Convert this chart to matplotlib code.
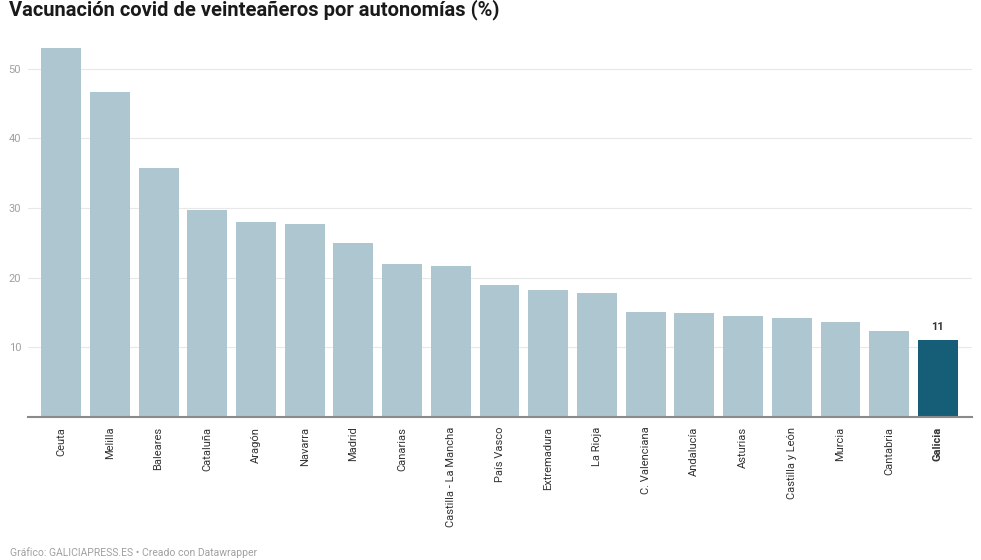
import matplotlib.pyplot as plt

regions = ["Ceuta", "Melilla", "Baleares", "Cataluña", "Aragón", "Navarra", "Madrid",
           "Canarias", "Castilla - La Mancha", "País Vasco", "Extremadura", "La Rioja",
           "C. Valenciana", "Andalucía", "Asturias", "Castilla y León", "Murcia",
           "Cantabria", "Galicia"]
values = [53.0, 46.6, 35.8, 29.7, 28.0, 27.7, 25.0, 22.0, 21.7, 19.0, 18.2, 17.8,
          15.1, 14.9, 14.5, 14.2, 13.6, 12.3, 11.0]
highlight = "Galicia"
yticks = [10, 20, 30, 40, 50]

plt.rcParams['font.family'] = ['Roboto', 'DejaVu Sans']

fig = plt.figure(figsize=(9.81, 5.6), dpi=100)
ax = fig.add_axes([28 / 981, 1 - 417 / 560, 944 / 981, (417 - 34) / 560])

colors = ["#165d78" if r == highlight else "#aec6cf" for r in regions]
x = range(len(regions))
ax.bar(x, values, width=0.82, color=colors, zorder=2)

ax.set_xlim(-0.68, len(regions) - 0.3)
ax.set_ylim(0, 55)
ax.set_yticks(yticks)
ax.set_yticklabels([str(t) for t in yticks], color="#a0a0a0", fontsize=8)
ax.tick_params(axis="y", length=0, pad=5)
ax.grid(axis="y", color="#e8e8e8", lw=0.8, zorder=0)

ax.set_xticks(list(x))
ax.set_xticklabels(regions, rotation=90, fontsize=8, color="#333333")
ax.tick_params(axis="x", length=0, pad=7)
for lbl in ax.get_xticklabels():
    if lbl.get_text() == highlight:
        lbl.set_fontweight("bold")

for s in ["top", "right", "left"]:
    ax.spines[s].set_visible(False)
ax.spines["bottom"].set_color("#8a8a8a")
ax.spines["bottom"].set_linewidth(1.5)
ax.spines["bottom"].set_zorder(3)

i = regions.index(highlight)
ax.annotate(f"{values[i]:.0f}", (i, values[i]), xytext=(0, 6), textcoords="offset points",
            ha="center", va="bottom", fontsize=8, fontweight="bold", color="#333333")

fig.text(9 / 981, 1 - 10 / 560, "Vacunación covid de veinteañeros por autonomías (%)",
         fontsize=14.5, fontweight="bold", color="#1a1a1a", va="center", ha="left")
fig.text(10 / 981, 1 - 553 / 560, "Gráfico: GALICIAPRESS.ES • Creado con Datawrapper",
         fontsize=7.5, color="#a0a0a0", va="center", ha="left")

fig.savefig("out.png", dpi=100)
